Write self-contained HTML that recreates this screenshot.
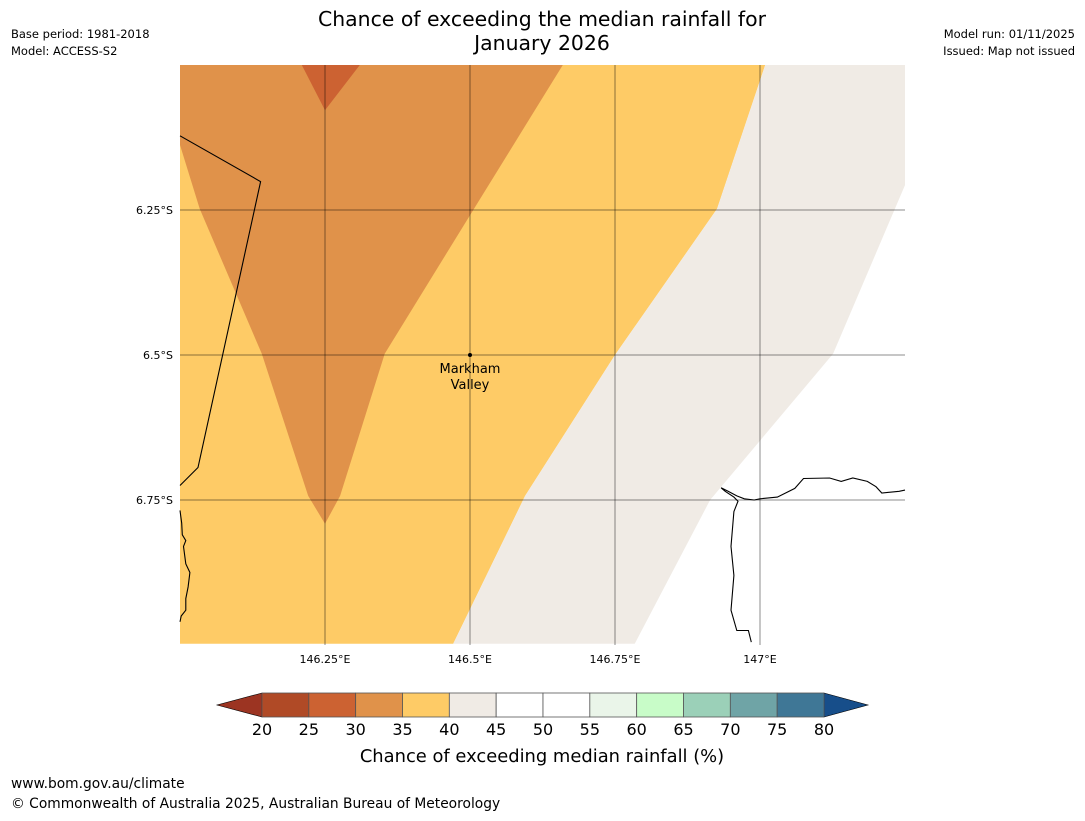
<!DOCTYPE html>
<html><head><meta charset="utf-8"><style>
body{margin:0;background:#fff;font-family:"Liberation Sans","DejaVu Sans",sans-serif}
svg text{font-family:"DejaVu Sans","Liberation Sans",sans-serif}
</style></head><body>
<svg width="1085" height="816" xmlns="http://www.w3.org/2000/svg">
<text x="542" y="26" font-size="20.4" text-anchor="middle">Chance of exceeding the median rainfall for</text>
<text x="542" y="50" font-size="20.4" text-anchor="middle">January 2026</text>
<text x="11" y="38" font-size="11.5">Base period: 1981-2018</text>
<text x="11" y="55" font-size="11.5">Model: ACCESS-S2</text>
<text x="1075" y="38" font-size="11.5" text-anchor="end">Model run: 01/11/2025</text>
<text x="1075" y="55" font-size="11.5" text-anchor="end">Issued: Map not issued</text>
<g id="map"></g>
<g id="cbar"></g>
<text x="542" y="762" font-size="17.9" text-anchor="middle">Chance of exceeding median rainfall (%)</text>
<text x="11" y="788" font-size="13.8">www.bom.gov.au/climate</text>
<text x="11" y="808" font-size="13.8">© Commonwealth of Australia 2025, Australian Bureau of Meteorology</text>
</svg>
<script>
const lonTicks=[146.25,146.5,146.75,147];
const lonLabels=["146.25°E","146.5°E","146.75°E","147°E"];
const latTicks=[6.25,6.5,6.75];
const latLabels=["6.25°S","6.5°S","6.75°S"];
const levels=[20,25,30,35,40,45,50,55,60,65,70,75,80];
const levelColors=["#b04a26","#cc6232","#e0924a","#fecb66","#f0ebe5","#ffffff","#ffffff","#eaf5e9","#c8fcc8","#9bd0b8","#6fa4a6","#3f7796"];
const underColor="#9c3422", overColor="#174e8a";
const region35=[[146,6],[147.009,6],[146.926,6.248],[146.75,6.5],[146.595,6.743],[146.471,6.998],[146,6.998]];
const region40=[[147.009,6],[147.25,6],[147.25,6.207],[147.126,6.498],[146.914,6.75],[146.784,6.998],[146.471,6.998],[146.595,6.743],[146.75,6.5],[146.926,6.248]];
const region30=[[146,6],[146.66,6],[146.5,6.259],[146.353,6.498],[146.276,6.743],[146.25,6.791],[146.221,6.743],[146.141,6.498],[146.034,6.248],[146,6.138]];
const region25=[[146.21,6],[146.31,6],[146.25,6.078]];
const province=[[146,6.122],[146.139,6.201],[146.031,6.694],[146,6.725]];
const coastW=[[146,6.768],[146.003,6.79],[146.004,6.81],[146.01,6.82],[146.006,6.83],[146.01,6.86],[146.017,6.875],[146.014,6.9],[146.01,6.92],[146.01,6.94],[146.002,6.95],[146,6.96]];
const coastE=[[147.25,6.733],[147.24,6.735],[147.21,6.738],[147.2,6.727],[147.185,6.718],[147.16,6.712],[147.14,6.718],[147.12,6.712],[147.075,6.713],[147.06,6.73],[147.03,6.745],[147.0,6.748],[146.99,6.75],[146.973,6.748],[146.96,6.743],[146.945,6.735],[146.933,6.729],[146.94,6.735],[146.955,6.745],[146.962,6.752],[146.955,6.77],[146.95,6.83],[146.955,6.88],[146.95,6.94],[146.96,6.975],[146.98,6.975],[146.985,6.995]];
const X0=180,Y0=65,K=580;
const xs=lon=>X0+(lon-146)*K, ys=lat=>Y0+(lat-6)*K;
const NS="http://www.w3.org/2000/svg";
const map=document.getElementById('map');
function mk(tag,attrs,parent){const e=document.createElementNS(NS,tag);for(const k in attrs)e.setAttribute(k,attrs[k]);parent.appendChild(e);return e;}
const pts=a=>a.map(p=>xs(p[0]).toFixed(1)+","+ys(p[1]).toFixed(1)).join(" ");
let e;
e=mk('polygon',{points:pts(region35),fill:levelColors[3]},map);


e=mk('polygon',{points:pts(region40),fill:levelColors[4]},map);


e=mk('polygon',{points:pts(region30),fill:levelColors[2]},map);


e=mk('polygon',{points:pts(region25),fill:levelColors[1]},map);


[province,coastW,coastE].forEach((c,i)=>{
 e=mk('polyline',{points:pts(c),fill:"none",stroke:"#000","stroke-width":1.1},map);
 
 
});
lonTicks.forEach((t,i)=>{
 e=mk('line',{x1:xs(t),x2:xs(t),y1:ys(6),y2:ys(7),stroke:"#000","stroke-opacity":0.45,"stroke-width":1},map);
 
 
 e=mk('text',{x:xs(t),y:ys(7)+18,"font-size":11,"text-anchor":"middle"},map);e.textContent=lonLabels[i];
 
 
});
latTicks.forEach((t,i)=>{
 e=mk('line',{x1:xs(146),x2:xs(147.25),y1:ys(t),y2:ys(t),stroke:"#000","stroke-opacity":0.45,"stroke-width":1},map);
 
 
 e=mk('text',{x:xs(146)-7,y:ys(t)+4,"font-size":11,"text-anchor":"end"},map);e.textContent=latLabels[i];
 
 
});
e=mk('circle',{cx:xs(146.5),cy:ys(6.5),r:2,fill:"#000"},map);


e=mk('text',{x:xs(146.5),y:ys(6.5)+18,"font-size":13,"text-anchor":"middle"},map);e.textContent="Markham";


e=mk('text',{x:xs(146.5),y:ys(6.5)+34,"font-size":13,"text-anchor":"middle"},map);e.textContent="Valley";


const cb=document.getElementById('cbar');
const CX0=262,CX1=824,CY=693,CH=24;
const cx=v=>CX0+(v-levels[0])/(levels[levels.length-1]-levels[0])*(CX1-CX0);
e=mk('polygon',{points:`${CX0},${CY} ${CX0-45},${CY+CH/2} ${CX0},${CY+CH}`,fill:underColor,stroke:"#000","stroke-width":0.6},cb);


e=mk('polygon',{points:`${CX1},${CY} ${CX1+44},${CY+CH/2} ${CX1},${CY+CH}`,fill:overColor,stroke:"#000","stroke-width":0.6},cb);


levelColors.forEach((c,i)=>{
 e=mk('rect',{x:cx(levels[i]),y:CY,width:cx(levels[i+1])-cx(levels[i]),height:CH,fill:c,stroke:"#555","stroke-width":0.8},cb);
 
 
});
levels.forEach(v=>{
 e=mk('text',{x:cx(v),y:CY+CH+18,"font-size":16,"text-anchor":"middle"},cb);e.textContent=v;
 
 
});
</script>
</body></html>
